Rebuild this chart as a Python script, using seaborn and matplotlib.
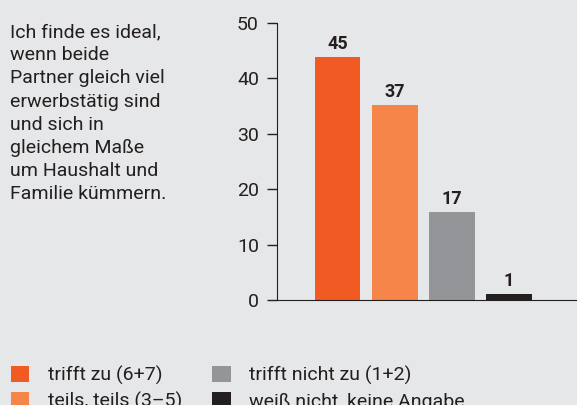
import matplotlib
matplotlib.use("Agg")
import matplotlib.pyplot as plt
from matplotlib.patches import Patch
import pandas as pd
import seaborn as sns

# answers to the statement, percent
categories = ["trifft zu (6+7)", "teils, teils (3–5)",
              "trifft nicht zu (1+2)", "weiß nicht, keine Angabe"]
heights = [43.9, 35.2, 15.9, 1.1]
value_labels = ["45", "37", "17", "1"]
colors = ["#f15a22", "#f58549", "#939598", "#231f20"]
y_ticks = [0, 10, 20, 30, 40, 50]
statement = ("Ich finde es ideal,\nwenn beide\nPartner gleich viel\n"
             "erwerbstätig sind\nund sich in\ngleichem Maße\n"
             "um Haushalt und\nFamilie kümmern.")

bg = "#e6e7e8"
ink = "#231f20"

sns.set_style("ticks")
plt.rcParams["font.family"] = ["Roboto", "DejaVu Sans"]

df = pd.DataFrame({"kategorie": categories, "wert": heights})

fig = plt.figure(figsize=(5.77, 4.05), dpi=100, facecolor=bg)
ax = fig.add_axes([277 / 577, 105 / 405, 300 / 577, 277 / 405])
ax.set_facecolor(bg)

sns.barplot(data=df, x="kategorie", y="wert", hue="kategorie",
            palette=colors, width=0.8, legend=False, saturation=1,
            edgecolor="none", linewidth=0, ax=ax)

for cont, lab in zip(ax.containers, value_labels):
    ax.bar_label(cont, labels=[lab], padding=3, fontsize=13,
                 fontweight="semibold", color=ink)

ax.set_xlim(-1.06, 4.19)
ax.set_ylim(0, 50)
ax.set_yticks(y_ticks)
ax.set_xticks([])
ax.set_xlabel("")
ax.set_ylabel("")
ax.tick_params(axis="y", length=7, width=1, color=ink, labelsize=14,
               labelcolor=ink, pad=6)
for side in ["top", "right"]:
    ax.spines[side].set_visible(False)
ax.spines["left"].set_color(ink)
ax.spines["bottom"].set_color(ink)

fig.text(10 / 577, 1 - 23 / 405, statement, ha="left", va="top",
         fontsize=14, color=ink, linespacing=1.37)

handles = [Patch(facecolor=c, edgecolor="none") for c in colors]
fig.legend(handles, categories, ncol=2, loc="upper left",
           bbox_to_anchor=(1 / 577, 1 - 356 / 405), frameon=False,
           fontsize=14, labelcolor=ink, handlelength=0.95,
           handleheight=0.95, handletextpad=0.95, columnspacing=1.55,
           labelspacing=0.35, borderpad=0)

fig.savefig("out.png", dpi=100, facecolor=bg)
